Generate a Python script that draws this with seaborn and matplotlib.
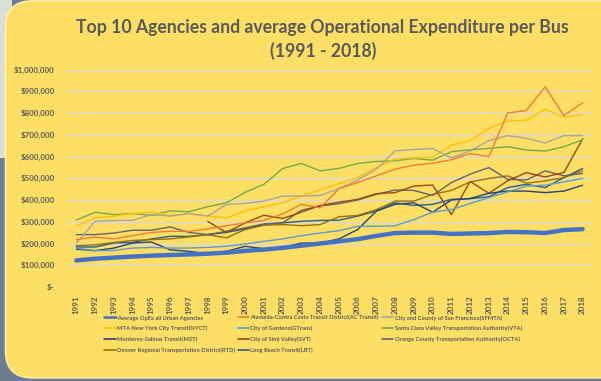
import numpy as np
import pandas as pd
import matplotlib
matplotlib.use("Agg")
import matplotlib.pyplot as plt
from matplotlib.patches import FancyBboxPatch, Rectangle
from matplotlib.lines import Line2D
from matplotlib.ticker import FuncFormatter
import seaborn as sns

sns.set_theme(style="white")
plt.rcParams["font.family"] = ["Lato", "DejaVu Sans"]

years = list(range(1991, 2019))
nan = np.nan

# Operational expenditure per bus, in thousands of dollars
avg_all = [122, 130, 135, 140, 144, 147, 150, 153, 158, 166, 172, 180, 190, 200,
           210, 220, 235, 248, 250, 250, 244, 246, 248, 253, 252, 248, 262, 266]
ac_transit = [218, 230, 221, 236, 251, 256, 256, 267, 282, 295, 306, 336, 380, 364,
              452, 480, 511, 542, 560, 569, 585, 614, 599, 800, 812, 920, 788, 847]
sfmta = [202, 302, 306, 306, 333, 326, 338, 326, 380, 384, 395, 418, 418, 421,
         452, 492, 542, 626, 632, 637, 593, 626, 673, 696, 684, 662, 696, 696]
nyct = [282, 318, 326, 338, 344, 329, 336, 326, 318, 349, 369, 387, 418, 446,
        475, 503, 549, 588, 594, 596, 653, 673, 730, 762, 767, 818, 781, 793]
gtrans = [179, 167, 168, 179, 182, 179, 179, 182, 187, 198, 210, 221, 236, 248,
          259, 279, 279, 282, 310, 344, 356, 384, 411, 437, 464, 468, 483, 499]
vta = [307, 344, 333, 338, 329, 350, 346, 369, 387, 435, 472, 545, 568, 534,
       545, 568, 577, 580, 591, 583, 622, 631, 637, 645, 630, 625, 645, 677]
mst = [174, 167, 179, 202, 207, 171, 164, 153, 164, 187, 176, 182, 202, 202,
       221, 264, 349, 380, 387, 344, 400, 407, 431, 441, 441, 434, 441, 468]
svt = [nan, nan, nan, nan, nan, nan, nan, 302, 251, 295, 330, 315, 344, 375,
       390, 403, 429, 434, 464, 469, 333, 485, 431, 488, 526, 506, 526, 681]
octa = [241, 241, 248, 261, 261, 276, 251, 241, 256, 272, 290, 295, 353, 372,
        383, 400, 426, 446, 444, 421, 480, 519, 549, 495, 492, 534, 511, 522]
rtd = [190, 194, 205, 214, 218, 221, 230, 240, 226, 264, 284, 287, 282, 287,
       323, 329, 356, 395, 395, 426, 444, 483, 499, 511, 477, 488, 503, 534]
lbt = [184, 184, 202, 205, 221, 233, 233, 241, 251, 267, 287, 295, 302, 306,
       307, 326, 349, 387, 375, 380, 403, 406, 415, 457, 472, 457, 503, 545]

names = [
    "Average OpEx all Urban Agencies",
    "Alameda-Contra Costa Transit District(AC Transit)",
    "City and County of San Francisco(SFMTA)",
    "MTA New York City Transit(NYCT)",
    "City of Gardena(GTrans)",
    "Santa Clara Valley Transportation Authority(VTA)",
    "Monterey-Salinas Transit(MST)",
    "City of Simi Valley(SVT)",
    "Orange County Transportation Authority(OCTA)",
    "Denver Regional Transportation District(RTD)",
    "Long Beach Transit(LBT)",
]
series = [avg_all, ac_transit, sfmta, nyct, gtrans, vta, mst, svt, octa, rtd, lbt]
colors = ["#4472C4", "#ED7D31", "#A5A5A5", "#FFC000", "#5B9BD5", "#70AD47",
          "#264478", "#9E480E", "#5E6470", "#997300", "#255E91"]
widths = [3.2] + [1.0] * 10

frames = []
for n, s in zip(names, series):
    frames.append(pd.DataFrame({"year": years, "agency": n,
                                "opex": np.array(s, dtype=float) * 1000}))
df = pd.concat(frames).dropna()

panel = "#FEDF66"
text_c = "#595959"

fig = plt.figure(figsize=(6.01, 3.81), dpi=100)
fig.patch.set_facecolor("#6D7C90")
fig.patches.append(Rectangle((0, 0.585), 0.02, 0.415, transform=fig.transFigure,
                             facecolor="#D9DFD3", edgecolor="none", zorder=-3))
fig.patches.append(FancyBboxPatch((0.009, 0.008), 1.05, 0.99,
                                  boxstyle="round,pad=0,rounding_size=0.045",
                                  transform=fig.transFigure, facecolor=panel,
                                  edgecolor="#FFF1B0", linewidth=1.0,
                                  mutation_aspect=601 / 381, zorder=-2))

ax = fig.add_axes([67 / 601, 1 - 287 / 381, (592 - 67) / 601, (287 - 69.5) / 381])
ax.set_facecolor("none")

for n, c, w in zip(names[::-1], colors[::-1], widths[::-1]):
    sns.lineplot(data=df[df["agency"] == n], x="year", y="opex", color=c,
                 linewidth=w, ax=ax, legend=False, zorder=3 if w > 2 else 2)

ax.set_xlim(1990.5, 2018.5)
ax.set_ylim(0, 1000000)
ax.set_yticks(np.arange(0, 1000001, 100000))
ax.yaxis.set_major_formatter(FuncFormatter(
    lambda v, p: "$-" if v == 0 else f"${v:,.0f}"))
ax.set_xticks(years)
ax.set_xticklabels([str(y) for y in years], rotation=90)
ax.grid(axis="y", color="#D9D9D9", linewidth=1.0, zorder=0)
ax.grid(axis="x", visible=False)
ax.set_axisbelow(True)
for sp in ax.spines.values():
    sp.set_visible(False)
ax.tick_params(axis="y", length=0, pad=9, labelsize=5.7, labelcolor=text_c)
ax.tick_params(axis="x", length=0, pad=6, labelsize=5.8, labelcolor=text_c)
for lab in ax.get_yticklabels() + ax.get_xticklabels():
    lab.set_fontweight("bold")
ax.set_xlabel("")
ax.set_ylabel("")

fig.text(0.537, 1 - 39.5 / 381,
         "Top 10 Agencies and average Operational Expenditure per Bus\n(1991 - 2018)",
         ha="center", va="center", fontsize=12.7, fontweight="bold",
         color=text_c, linespacing=1.4)

# legend filled row by row across three columns
order = [0, 3, 6, 9, 1, 4, 7, 10, 2, 5, 8]
handles = [Line2D([], [], color=colors[i], linewidth=1.8 if i == 0 else 1.2)
           for i in order]
labels = [names[i] for i in order]
leg = fig.legend(handles, labels, ncol=3, loc="upper left",
                 bbox_to_anchor=(104 / 601, 1 - 315 / 381), frameon=False,
                 fontsize=4.15, handlelength=2.0, handletextpad=0.2,
                 columnspacing=0.5, labelspacing=0.9, borderaxespad=0,
                 borderpad=0)
for t in leg.get_texts():
    t.set_color(text_c)
    t.set_fontweight("bold")

fig.savefig("out.png", dpi=100, facecolor=fig.get_facecolor())
